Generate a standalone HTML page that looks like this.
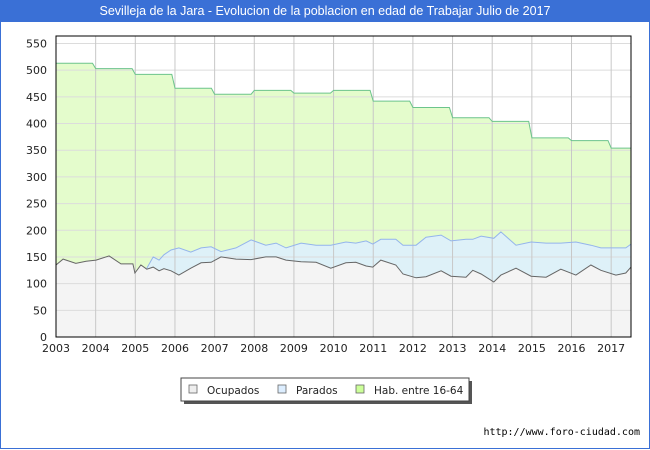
<!DOCTYPE html>
<html><head><meta charset="utf-8"><style>
body{margin:0;background:#fff;}
#wrap{position:relative;width:648px;height:448px;border:1px solid #3a70d6;border-top:none;overflow:hidden;font-family:"Liberation Sans","DejaVu Sans",sans-serif;}
#title{position:absolute;left:0;top:0;width:648px;height:22px;background:#3a70d6;color:#fff;font-size:12.5px;line-height:22px;text-align:center;}
#foot{position:absolute;right:9px;top:427px;font-size:10px;color:#000;font-family:"DejaVu Sans Mono","Liberation Mono",monospace;}
</style></head><body>
<div id="wrap">
<div id="title">Sevilleja de la Jara - Evolucion de la poblacion en edad de Trabajar Julio de 2017</div>
<svg id="chart" width="648" height="448" style="position:absolute;left:0;top:0"></svg>
<div id="foot">http://www.foro-ciudad.com</div>
</div>
<script>
const yearTicks=[2003,2004,2005,2006,2007,2008,2009,2010,2011,2012,2013,2014,2015,2016,2017];
const valueTicks=[0,50,100,150,200,250,300,350,400,450,500,550];
const habYears=[2003,2004,2005,2006,2007,2008,2009,2010,2011,2012,2013,2014,2015,2016,2017];
const habVals=[513,503,492,466,455,462,457,462,442,430,411,404,373,368,354];
const times=[2003.00,2003.18,2003.50,2003.76,2004.01,2004.34,2004.64,2004.94,2004.99,2005.14,2005.29,2005.45,2005.60,2005.72,2005.90,2006.10,2006.40,2006.66,2006.91,2007.16,2007.54,2007.92,2008.29,2008.55,2008.80,2009.18,2009.56,2009.93,2010.31,2010.56,2010.82,2010.99,2011.19,2011.57,2011.75,2012.08,2012.33,2012.71,2012.96,2013.34,2013.51,2013.72,2014.04,2014.22,2014.60,2014.98,2015.36,2015.73,2016.11,2016.49,2016.74,2017.12,2017.37,2017.50];
const ocupados=[135,146,138,142,144,152,137,137,120,135,127,131,124,128,124,116,129,139,140,150,146,145,150,150,144,141,140,129,139,140,133,131,144,135,118,111,113,124,114,112,125,118,103,116,129,114,112,127,116,135,125,116,120,131];
const parados=[null,null,null,null,null,null,null,null,null,null,2,19,20,26,39,51,30,28,29,10,21,37,22,26,23,35,32,43,39,36,47,43,39,48,54,61,74,67,66,71,58,71,82,81,43,64,64,49,62,37,42,51,47,43];
const L=55,R=630,T=36,B=337,t0=2003,t1=2017.5,vmax=564;
const X=t=>L+(t-t0)/(t1-t0)*(R-L);
const Y=v=>B-v/vmax*(B-T);
const NS='http://www.w3.org/2000/svg';
const svg=document.getElementById('chart');
function mk(tag,attrs,parent){const e=document.createElementNS(NS,tag);for(const k in attrs)e.setAttribute(k,attrs[k]);(parent||svg).appendChild(e);return e;}
const bg=mk('rect',{x:L,y:T,width:R-L,height:B-T,fill:'#fff'});


let hp=[];
habYears.forEach((yr,i)=>{const e=i<habYears.length-1?habYears[i+1]-0.08:t1;hp.push([X(yr),Y(habVals[i])]);hp.push([X(e),Y(habVals[i])]);});
const habLine=hp.map((p,i)=>(i?'L':'M')+p[0].toFixed(1)+','+p[1].toFixed(1)).join('');
const habArea=mk('path',{d:habLine+`L${R},${B}L${L},${B}Z`,fill:'#e4fccc'});


const totPts=times.map((t,i)=>[X(t),Y(ocupados[i]+(parados[i]||0))]);
const parArea=mk('path',{d:totPts.map((p,i)=>(i?'L':'M')+p[0].toFixed(1)+','+p[1].toFixed(1)).join('')+`L${R},${B}L${L},${B}Z`,fill:'#ddeeff',opacity:'0.85'});


const ocPts=times.map((t,i)=>[X(t),Y(ocupados[i])]);
const ocLineD=ocPts.map((p,i)=>(i?'L':'M')+p[0].toFixed(1)+','+p[1].toFixed(1)).join('');
const ocArea=mk('path',{d:ocLineD+`L${R},${B}L${L},${B}Z`,fill:'#f4f4f4'});


valueTicks.forEach(v=>{if(v===0)return;const g=mk('line',{x1:L,x2:R,y1:Y(v),y2:Y(v),stroke:'#dcdcdc','stroke-width':1});

});
yearTicks.forEach(yr=>{if(yr===2003)return;const g=mk('line',{x1:X(yr),x2:X(yr),y1:T,y2:B,stroke:'#c8c8c8','stroke-width':1});

});
const habL=mk('path',{d:habLine,fill:'none',stroke:'#6cc48c','stroke-width':1});


let pd='';let started=false;
times.forEach((t,i)=>{if(parados[i]==null)return;pd+=(started?'L':'M')+X(t).toFixed(1)+','+Y(ocupados[i]+parados[i]).toFixed(1);started=true;});
const parL=mk('path',{d:pd,fill:'none',stroke:'#94b4ec','stroke-width':1});


const ocL=mk('path',{d:ocLineD,fill:'none',stroke:'#666','stroke-width':1});


const fr=mk('rect',{x:L,y:T,width:R-L,height:B-T,fill:'none',stroke:'#000','stroke-width':1});


valueTicks.forEach(v=>{const t=mk('text',{x:L-9,y:Y(v)+4,'text-anchor':'end','font-size':11,fill:'#222','font-family':'DejaVu Sans, Liberation Sans, sans-serif'});t.textContent=v;

});
yearTicks.forEach(yr=>{const t=mk('text',{x:X(yr),y:B+15,'text-anchor':'middle','font-size':11,fill:'#222','font-family':'DejaVu Sans, Liberation Sans, sans-serif'});t.textContent=yr;

});
const lg=mk('g',{});


mk('rect',{x:183,y:381,width:288,height:23,fill:'#555'},lg);
mk('rect',{x:180,y:378,width:288,height:23,fill:'#fff',stroke:'#444','stroke-width':1},lg);
const items=[['Ocupados','#eeeeee',188],['Parados','#ddeeff',277],['Hab. entre 16-64','#ccff99',355]];
items.forEach(([n,c,x])=>{const g=mk('g',{},lg);


mk('rect',{x:x,y:385,width:8,height:8,fill:c,stroke:'#666','stroke-width':0.8},g);
const t=mk('text',{x:x+18,y:394,'font-size':10.5,fill:'#222','font-family':'DejaVu Sans, Liberation Sans, sans-serif'},g);t.textContent=n;});
</script>
</body></html>
